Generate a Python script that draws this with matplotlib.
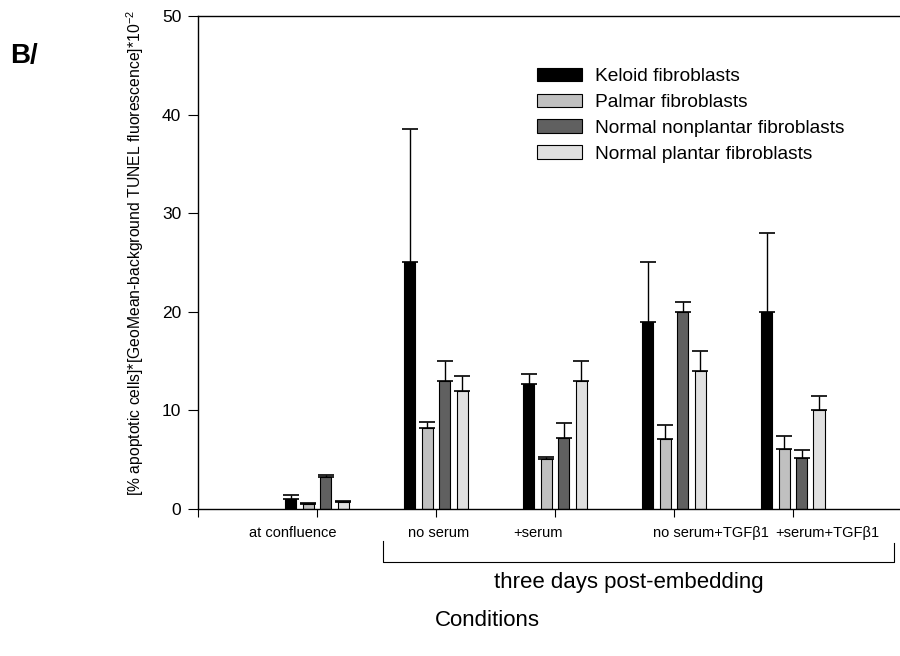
import numpy as np
import matplotlib
matplotlib.use("Agg")
import matplotlib.pyplot as plt

plt.rcParams["font.family"] = ["Liberation Sans", "DejaVu Sans"]
plt.rcParams["mathtext.fontset"] = "custom"
plt.rcParams["mathtext.rm"] = "Liberation Sans"

# Données (valeur moyenne et erreur supérieure)
conditions = ["at confluence", "no serum", "+serum",
              "no serum+TGF\u03b21", "+serum+TGF\u03b21"]
series = ["Keloid fibroblasts", "Palmar fibroblasts",
          "Normal nonplantar fibroblasts", "Normal plantar fibroblasts"]
keloid = [1.05, 25.0, 12.7, 19.0, 20.0]
keloid_err = [0.4, 13.5, 1.0, 6.0, 8.0]
palmar = [0.5, 8.2, 5.05, 7.05, 6.05]
palmar_err = [0.1, 0.6, 0.2, 1.5, 1.4]
nonplantar = [3.2, 13.0, 7.25, 20.0, 5.15]
nonplantar_err = [0.25, 2.0, 1.5, 1.0, 0.8]
plantar = [0.75, 12.0, 13.0, 14.0, 10.0]
plantar_err = [0.1, 1.5, 2.0, 2.0, 1.5]

values = [keloid, palmar, nonplantar, plantar]
errors = [keloid_err, palmar_err, nonplantar_err, plantar_err]
colors = ["#000000", "#c0c0c0", "#606060", "#e0e0e0"]

fig = plt.figure(figsize=(9, 6.56), dpi=100)
ax = fig.add_axes([0.22, 0.2241, 0.78, 0.7515])

x = np.arange(1, len(conditions) + 1)
pitch = 0.147
width = 0.095
for k in range(4):
    pos = x + (k - 1.5) * pitch
    ax.bar(pos, values[k], width, color=colors[k], edgecolor="black",
           linewidth=0.8, label=series[k], zorder=2)
    ax.errorbar(pos, values[k], yerr=[np.zeros(5), errors[k]], fmt="none",
                ecolor="black", elinewidth=1, capsize=5.5, capthick=1.2,
                zorder=3)

ax.set_xlim(0, 5.9)
ax.set_ylim(0, 50)
ax.set_yticks(range(0, 51, 10))
ax.set_xticks(range(0, 6))
ax.set_xticklabels([])
ax.tick_params(axis="y", direction="out", length=7, labelsize=12.5, pad=5)
ax.tick_params(axis="x", direction="out", length=6)
ax.spines["right"].set_visible(False)
for s in ["left", "bottom", "top"]:
    ax.spines[s].set_linewidth(1)

leg = ax.legend(loc="upper left", bbox_to_anchor=(0.483, 0.895), frameon=False,
                fontsize=13.8, handlelength=2.35, handleheight=0.7,
                labelspacing=0.44, handletextpad=0.65, borderaxespad=0,
                borderpad=0)

# étiquettes des conditions
label_x = [0.80, 2.02, 2.86, 4.31, 5.29]
for lx, lab in zip(label_x, conditions):
    ax.text(lx, -2.4, lab, ha="center", va="center", fontsize=10.5)

# accolade "three days post-embedding"
bx0, bx1 = 1.555, 5.85
by_top, by_bot = -3.2, -5.4
ax.plot([bx0, bx0, bx1, bx1], [by_top, by_bot, by_bot, by_top - 0.2],
        color="black", linewidth=0.8, clip_on=False)
ax.text(3.62, -7.5, "three days post-embedding", ha="center", va="center",
        fontsize=16)

fig.text(487 / 900, 1 - 620 / 656, "Conditions", ha="center", va="center",
         fontsize=16)
fig.text(135 / 900, 1 - 253 / 656,
         r"[% apoptotic cells]*[GeoMean-background TUNEL fluorescence]*10$^{-2}$",
         rotation=90, ha="center", va="center", fontsize=11.3)
fig.text(24 / 900, 1 - 56 / 656, "B/", ha="center", va="center",
         fontsize=20, fontweight="bold")

fig.savefig("out.png", dpi=100)
